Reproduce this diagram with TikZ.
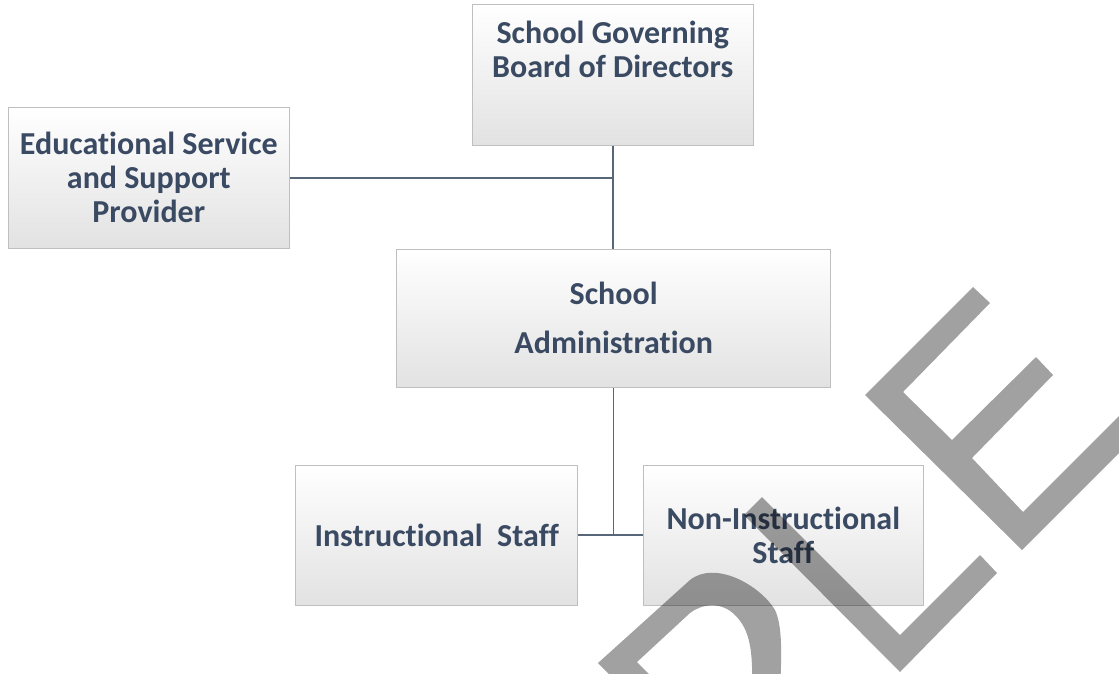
\documentclass[tikz,border=0pt]{standalone}
\usepackage{fontspec}
\setmainfont[Ligatures=CommonOff]{Carlito}
\definecolor{txtblue}{RGB}{59,74,99}
\definecolor{boxgray}{RGB}{191,191,191}
\definecolor{shadegray}{RGB}{226,226,226}
\definecolor{linkgray}{RGB}{88,102,122}
\begin{document}
\begin{tikzpicture}[x=1pt,y=-1pt,
        box/.style={draw=boxgray,line width=1pt,top color=white,middle color=white,
            bottom color=shadegray,text=txtblue,align=center,inner sep=0pt,
            font=\bfseries\fontsize{32}{34}\selectfont},
        lbl/.style={text=txtblue,align=center,inner sep=0pt,
            font=\bfseries\fontsize{32}{34}\selectfont},
        link/.style={draw=linkgray,line width=1.5pt},
        wm/.style={fill=black,fill opacity=.37}]
    \useasboundingbox (0,0) rectangle (1119,673);
    %===========================================
    \node[box,minimum width=281pt,minimum height=141pt] (board) at (612.8,74.7) {};
    \node[lbl,anchor=north] (boardtxt) at (612.8,21) {School Governing\\Board of Directors};
    \node[box,minimum width=281pt,minimum height=141pt] (edu) at (148.8,177.8)
        {Educational Service\\and Support\\Provider};
    \node[box,minimum width=434pt,minimum height=138pt] (admin) at (613.7,318.3)
        {School\\[15pt]Administration};
    \node[box,minimum width=282pt,minimum height=140pt] (instr) at (436.7,535)
        {Instructional\ \ Staff};
    \node[box,minimum width=280pt,minimum height=140pt] (noninstr) at (783.3,535)
        {Non-Instructional\\Staff};
    %===========================================
    \draw[link] (board.south) -- (board.south |- admin.north);
    \draw[link] (edu.east) -- (edu.east -| board.south);
    \draw[link] (admin.south) -- (admin.south |- instr.east);
    \draw[link] (instr.east) -- (noninstr.west);
    %===========================================
    \begin{scope}
        \clip (0,0) rectangle (1119,673);
        \fill[wm] (598,663) -- (690,580) .. controls (715,560) and (760,585) .. (775,610)
            .. controls (782,625) and (782,650) .. (780,690) -- (752,690)
            .. controls (753,650) and (750,630) .. (735,615)
            .. controls (720,600) and (700,605) .. (690,613) -- (637,662) -- (665,690)
            -- (625,690) -- cycle;
        \fill[wm] (762,497) -- (900,635) -- (980,555) -- (997,573) -- (900,672)
            -- (744,515) -- cycle;
        \fill[wm] (973,287) -- (990,303) -- (903,392) -- (952,440) -- (1036,357)
            -- (1053,375) -- (972,458) -- (1023,512) -- (1130,405) -- (1130,442)
            -- (1022,550) -- (865,395) -- cycle;
    \end{scope}
\end{tikzpicture}
\end{document}
